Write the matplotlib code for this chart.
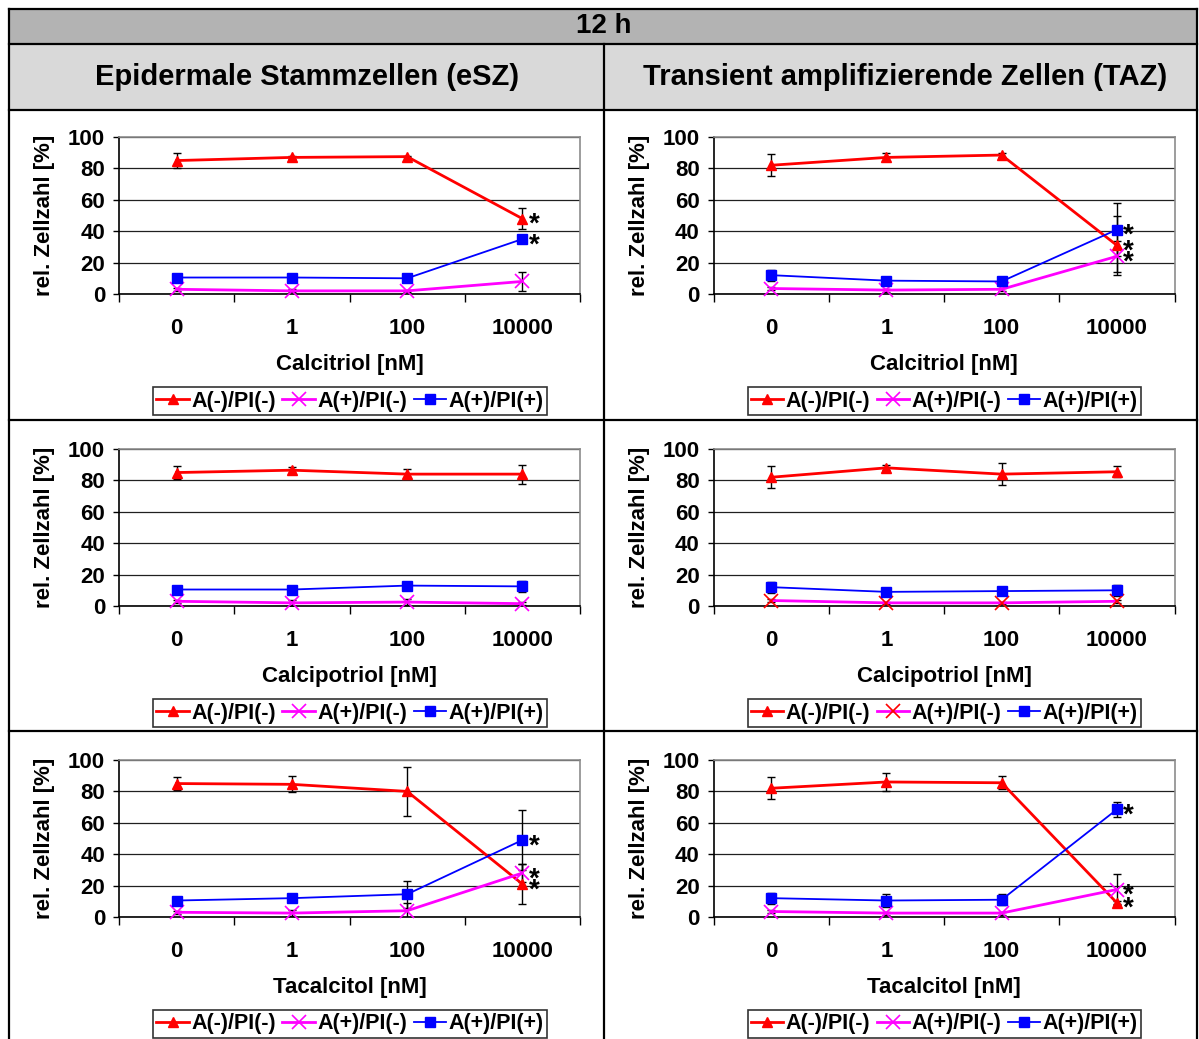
import matplotlib
matplotlib.use("Agg")
import matplotlib.pyplot as plt
from matplotlib.lines import Line2D
from matplotlib.patches import Rectangle

plt.rcParams["font.family"] = ["Liberation Sans", "DejaVu Sans"]
plt.rcParams["font.weight"] = "bold"

# ---------------------------------------------------------------- data
doses = ["0", "1", "100", "10000"]
series_names = ["A(-)/PI(-)", "A(+)/PI(-)", "A(+)/PI(+)"]
time_title = "12 h"
column_titles = ["Epidermale Stammzellen (eSZ)", "Transient amplifizierende Zellen (TAZ)"]
substances = ["Calcitriol [nM]", "Calcipotriol [nM]", "Tacalcitol [nM]"]
y_label = "rel. Zellzahl [%]"

# Calcitriol, eSZ
calcitriol_esz_live = [85, 87, 87.5, 48]
calcitriol_esz_live_err = [4.5, 1, 0.5, 6.5]
calcitriol_esz_apo = [3, 2, 2, 8]
calcitriol_esz_apo_err = [1, 1, 0.5, 6]
calcitriol_esz_dead = [10.5, 10.5, 10, 35]
calcitriol_esz_dead_err = [0.5, 0.5, 0.5, 1]
calcitriol_esz_sig = [True, False, True]

# Calcitriol, TAZ
calcitriol_taz_live = [82, 87, 88.5, 31]
calcitriol_taz_live_err = [7, 2.5, 1, 19]
calcitriol_taz_apo = [3.5, 2.5, 3, 24]
calcitriol_taz_apo_err = [1, 1, 1, 10]
calcitriol_taz_dead = [12, 8.5, 8, 41]
calcitriol_taz_dead_err = [3.5, 1, 1, 17]
calcitriol_taz_sig = [True, True, True]

# Calcipotriol, eSZ
calcipotriol_esz_live = [85, 86.5, 84, 84]
calcipotriol_esz_live_err = [4, 2, 3, 6]
calcipotriol_esz_apo = [3, 2, 2.5, 1.5]
calcipotriol_esz_apo_err = [1, 2, 2, 1]
calcipotriol_esz_dead = [10.5, 10.5, 13, 12.5]
calcipotriol_esz_dead_err = [1, 1, 1, 3.5]
calcipotriol_esz_sig = [False, False, False]

# Calcipotriol, TAZ
calcipotriol_taz_live = [82, 88, 84, 85.5]
calcipotriol_taz_live_err = [7, 1.5, 7, 3.5]
calcipotriol_taz_apo = [3.5, 2, 2, 3]
calcipotriol_taz_apo_err = [1, 0.5, 0.5, 1]
calcipotriol_taz_dead = [12, 9, 9.5, 10]
calcipotriol_taz_dead_err = [3.5, 1, 1, 3.5]
calcipotriol_taz_sig = [False, False, False]

# Tacalcitol, eSZ
tacalcitol_esz_live = [85, 84.5, 80, 21]
tacalcitol_esz_live_err = [4, 5, 15.5, 13]
tacalcitol_esz_apo = [3, 2.5, 4, 28]
tacalcitol_esz_apo_err = [1, 2, 5, 6]
tacalcitol_esz_dead = [10.5, 12, 14.5, 49]
tacalcitol_esz_dead_err = [1, 1, 8.5, 19]
tacalcitol_esz_sig = [True, True, True]

# Tacalcitol, TAZ
tacalcitol_taz_live = [82, 86, 85.5, 9]
tacalcitol_taz_live_err = [7, 6, 4, 1]
tacalcitol_taz_apo = [3.5, 2.5, 2.5, 17.5]
tacalcitol_taz_apo_err = [1, 1, 1, 10]
tacalcitol_taz_dead = [12, 10.5, 11, 68.5]
tacalcitol_taz_dead_err = [3.5, 4, 3.5, 5]
tacalcitol_taz_sig = [True, True, True]

panels = [
    [(calcitriol_esz_live, calcitriol_esz_live_err, calcitriol_esz_apo, calcitriol_esz_apo_err,
      calcitriol_esz_dead, calcitriol_esz_dead_err, calcitriol_esz_sig),
     (calcitriol_taz_live, calcitriol_taz_live_err, calcitriol_taz_apo, calcitriol_taz_apo_err,
      calcitriol_taz_dead, calcitriol_taz_dead_err, calcitriol_taz_sig)],
    [(calcipotriol_esz_live, calcipotriol_esz_live_err, calcipotriol_esz_apo, calcipotriol_esz_apo_err,
      calcipotriol_esz_dead, calcipotriol_esz_dead_err, calcipotriol_esz_sig),
     (calcipotriol_taz_live, calcipotriol_taz_live_err, calcipotriol_taz_apo, calcipotriol_taz_apo_err,
      calcipotriol_taz_dead, calcipotriol_taz_dead_err, calcipotriol_taz_sig)],
    [(tacalcitol_esz_live, tacalcitol_esz_live_err, tacalcitol_esz_apo, tacalcitol_esz_apo_err,
      tacalcitol_esz_dead, tacalcitol_esz_dead_err, tacalcitol_esz_sig),
     (tacalcitol_taz_live, tacalcitol_taz_live_err, tacalcitol_taz_apo, tacalcitol_taz_apo_err,
      tacalcitol_taz_dead, tacalcitol_taz_dead_err, tacalcitol_taz_sig)],
]

# ---------------------------------------------------------------- styles
series_styles = [
    dict(color="#ff0000", marker="^", ms=7.5, lw=2.0, mec="#ff0000", mfc="#ff0000"),
    dict(color="#ff00ff", marker="x", ms=10, mew=1.2, lw=2.0, mec="#ff00ff"),
    dict(color="#0000ff", marker="s", ms=6.5, lw=1.3, mec="#0000ff", mfc="#0000ff"),
]
# the Calcipotriol/TAZ chart shows its A(+)/PI(-) crosses in red
marker_override = {(1, 1): {1: "#ff0000"}}

W, H = 1199, 1039
fig = plt.figure(figsize=(W / 100, H / 100), dpi=100)
fig.patch.set_facecolor("white")


def fx(px):
    return px / W


def fy(py):
    return 1 - py / H


# ---------------------------------------------------------------- table frame
fig.patches.append(Rectangle((fx(9), fy(44)), fx(1197) - fx(9), fy(9) - fy(44),
                             transform=fig.transFigure, facecolor="#b3b3b3",
                             edgecolor="none", zorder=0))
fig.patches.append(Rectangle((fx(9), fy(110)), fx(1197) - fx(9), fy(44) - fy(110),
                             transform=fig.transFigure, facecolor="#d9d9d9",
                             edgecolor="none", zorder=0))


def hline(y, x0=9, x1=1197):
    fig.add_artist(Line2D([fx(x0), fx(x1)], [fy(y), fy(y)], transform=fig.transFigure,
                          color="black", lw=1.6, zorder=5))


def vline(x, y0, y1=H + 5):
    fig.add_artist(Line2D([fx(x), fx(x)], [fy(y0), fy(y1)], transform=fig.transFigure,
                          color="black", lw=1.6, zorder=5))


for y in (9, 44, 110, 420, 731):
    hline(y)
vline(9, 9)
vline(1197, 9)
vline(604, 44)

fig.text(fx(604), fy(26), time_title, ha="center", va="center", fontsize=20, weight="bold")
fig.text(fx(307), fy(77), column_titles[0], ha="center", va="center", fontsize=21, weight="bold")
fig.text(fx(905), fy(77), column_titles[1], ha="center", va="center", fontsize=21, weight="bold")

# ---------------------------------------------------------------- charts
col_left = [119, 713.5]
ax_w = 461
row_top = [137, 449, 760]
ax_h = 157
legend_cx = [350, 944.5]
legend_dy = 264
x = list(range(len(doses)))

for r in range(3):
    for c in range(2):
        live, live_err, apo, apo_err, dead, dead_err, sig = panels[r][c]
        left, top = col_left[c], row_top[r]
        ax = fig.add_axes([fx(left), fy(top + ax_h), ax_w / W, ax_h / H])
        ax.set_xlim(-0.5, 3.5)
        ax.set_ylim(0, 100)
        ax.set_yticks(range(0, 101, 20))
        ax.yaxis.grid(True, color="#202020", lw=0.9)
        ax.set_axisbelow(True)

        for side in ("top", "right"):
            ax.spines[side].set_color("#8c8c8c")
            ax.spines[side].set_linewidth(1.2)
        for side in ("left", "bottom"):
            ax.spines[side].set_color("black")
            ax.spines[side].set_linewidth(1.2)

        ax.set_xticks([-0.5, 0.5, 1.5, 2.5, 3.5])
        ax.set_xticklabels([])
        ax.tick_params(axis="x", which="major", direction="out", length=6, width=1, color="black")
        ax.set_xticks(x, minor=True)
        ax.set_xticklabels(doses, minor=True, fontsize=16, weight="bold")
        ax.tick_params(axis="x", which="minor", length=0, pad=17.5)
        ax.tick_params(axis="y", direction="out", length=4, width=1, pad=6, labelsize=16)
        for t in ax.get_yticklabels():
            t.set_fontweight("bold")

        ax.set_xlabel(substances[r], fontsize=16, weight="bold")
        ax.xaxis.set_label_coords(0.5, -0.45)
        ax.xaxis.label.set_va("center")
        ax.set_ylabel(y_label, fontsize=16, weight="bold")
        ax.yaxis.set_label_coords(-0.161, 0.5)
        ax.yaxis.label.set_va("center")

        handles = []
        data = [(live, live_err), (apo, apo_err), (dead, dead_err)]
        for i, (vals, errs) in enumerate(data):
            ex = [xi for xi, e in zip(x, errs) if e > 0]
            ev = [v for v, e in zip(vals, errs) if e > 0]
            ee = [e for e in errs if e > 0]
            ax.errorbar(ex, ev, yerr=ee, fmt="none", ecolor="black", elinewidth=1,
                        capsize=3, capthick=1, zorder=3 + i * 0.1)
            st = dict(series_styles[i])
            override = marker_override.get((r, c), {})
            if i in override:
                st["mec"] = override[i]
            h, = ax.plot(x, vals, label=series_names[i], zorder=4 + i * 0.1, clip_on=False, **st)
            handles.append(h)
            if sig[i]:
                # significance mark to the right of the highest dose
                ax.annotate("*", xy=(3, vals[3]), xytext=(4.5, -9.5), textcoords="offset points",
                            ha="left", va="baseline", fontsize=20, weight="bold", zorder=6)

        ax.legend(handles=handles, loc="center", ncol=3,
                  bbox_to_anchor=(fx(legend_cx[c]), fy(top + legend_dy)),
                  bbox_transform=fig.transFigure, frameon=True, fancybox=False,
                  edgecolor="black", prop={"weight": "bold", "size": 15.5},
                  handlelength=1.5, handletextpad=0.12, columnspacing=0.3,
                  borderpad=0.15, borderaxespad=0)
        ax.get_legend().get_frame().set_linewidth(1.2)

fig.savefig("out.png", dpi=100, facecolor="white")
